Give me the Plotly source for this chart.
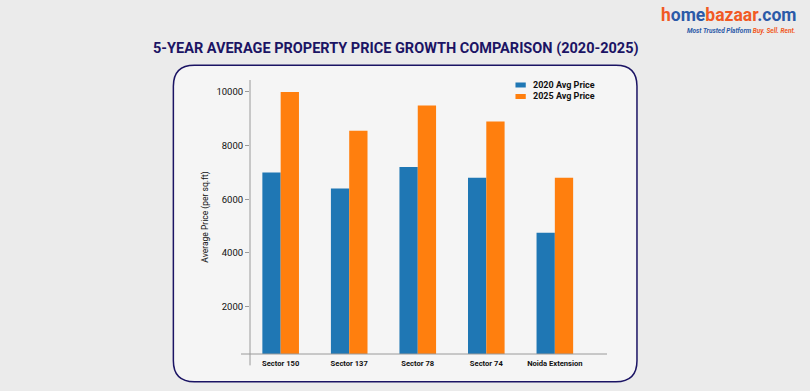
import plotly.graph_objects as go

categories = ["Sector 150", "Sector 137", "Sector 78", "Sector 74", "Noida Extension"]
price_2020 = [7000, 6400, 7200, 6800, 4750]
price_2025 = [10000, 8550, 9500, 8900, 6800]
series_names = ["2020 Avg Price", "2025 Avg Price"]
y_ticks = [2000, 4000, 6000, 8000, 10000]

W, H = 810, 391
L, R, T, B = 250, 202.7, 80, 36.7
PW, PH = W - L - R, H - T - B

def px(x):
    return (x - L) / PW

def py(y):
    return (H - B - y) / PH

BLUE = "#1f77b4"
ORANGE = "#ff7f0e"
NAVY = "#1b1464"
FONT = "Roboto, sans-serif"

fig = go.Figure()
fig.add_trace(go.Bar(x=categories, y=price_2020, name=series_names[0],
                     marker=dict(color=BLUE, line=dict(width=0)), showlegend=False))
fig.add_trace(go.Bar(x=categories, y=price_2025, name=series_names[1],
                     marker=dict(color=ORANGE, line=dict(width=0)), showlegend=False))

# frame with rounded corners (pixel -> paper)
x0, y0, x1, y1, r = 173.3, 65.3, 637.3, 382.0, 21
path = (f"M {px(x0+r)},{py(y0)} L {px(x1-r)},{py(y0)} Q {px(x1)},{py(y0)} {px(x1)},{py(y0+r)} "
        f"L {px(x1)},{py(y1-r)} Q {px(x1)},{py(y1)} {px(x1-r)},{py(y1)} "
        f"L {px(x0+r)},{py(y1)} Q {px(x0)},{py(y1)} {px(x0)},{py(y1-r)} "
        f"L {px(x0)},{py(y0+r)} Q {px(x0)},{py(y0)} {px(x0+r)},{py(y0)} Z")
shapes = [
    dict(type="path", xref="paper", yref="paper", path=path,
         line=dict(color=NAVY, width=1.5), fillcolor="#f5f5f5", layer="below"),
    # spines
    dict(type="line", xref="paper", yref="paper", x0=px(241), x1=px(607.3), y0=0, y1=0,
         line=dict(color="#9a9a9a", width=1), layer="above"),
    dict(type="line", xref="paper", yref="paper", x0=0, x1=0, y0=py(365.7), y1=1,
         line=dict(color="#9a9a9a", width=1), layer="above"),
    # legend swatches
    dict(type="rect", xref="paper", yref="paper", x0=px(515.7), x1=px(526), y0=py(87.5), y1=py(82.5),
         fillcolor=BLUE, line=dict(width=0)),
    dict(type="rect", xref="paper", yref="paper", x0=px(515.7), x1=px(526), y0=py(99), y1=py(94),
         fillcolor=ORANGE, line=dict(width=0)),
]

annotations = [
    dict(text="<b>5-YEAR AVERAGE PROPERTY PRICE GROWTH COMPARISON (2020-2025)</b>",
         xref="paper", yref="paper", x=px(396.5), y=py(48.5), xanchor="center", yanchor="middle",
         showarrow=False, font=dict(family=FONT, size=14.5, color=NAVY)),
    dict(text=series_names[0], xref="paper", yref="paper", x=px(531), y=py(85), xanchor="left",
         yanchor="middle", showarrow=False, font=dict(family=FONT, size=9, color="#111", weight=700)),
    dict(text=series_names[1], xref="paper", yref="paper", x=px(531), y=py(96.5), xanchor="left",
         yanchor="middle", showarrow=False, font=dict(family=FONT, size=9, color="#111", weight=700)),
    # logo
    dict(text="<b><span style='color:#f15a24'>h</span><span style='color:#2b5aa8'>ome</span>"
              "<span style='color:#f15a24'>bazaar</span><span style='color:#2b5aa8'>.com</span></b>",
         xref="paper", yref="paper", x=px(797), y=py(15), xanchor="right", yanchor="middle",
         borderpad=0, showarrow=False, font=dict(family=FONT, size=17.5)),
    dict(text="<b><i><span style='color:#2b5aa8'>Most Trusted Platform </span>"
              "<span style='color:#f15a24'>Buy. Sell. Rent.</span></i></b>",
         xref="paper", yref="paper", x=px(797), y=py(30.5), xanchor="right", yanchor="middle",
         borderpad=0, showarrow=False, font=dict(family=FONT, size=6.5)),
]

fig.update_layout(
    width=W, height=H,
    margin=dict(l=L, r=R, t=T, b=B, pad=0),
    paper_bgcolor="#ebebeb",
    plot_bgcolor="rgba(0,0,0,0)",
    barmode="group", bargap=0.466, bargroupgap=0,
    shapes=shapes, annotations=annotations,
    showlegend=False,
    xaxis=dict(range=[-0.4475, 4.761], showgrid=False, zeroline=False, showline=False,
               ticks="", tickfont=dict(family=FONT, size=7.6, color="#111", weight=700),
               ticklabelstandoff=3),
    yaxis=dict(range=[227, 10447], tickvals=y_ticks, ticktext=[str(v) for v in y_ticks],
               showgrid=False, zeroline=False, showline=False,
               ticks="outside", ticklen=4, tickcolor="#9a9a9a", tickwidth=1,
               tickfont=dict(family=FONT, size=9.5, color="#111"),
               title=dict(text="Average Price (per sq.ft)", standoff=6,
                          font=dict(family=FONT, size=8.5, color="#111"))),
)

fig.write_html("out.html", config={"displayModeBar": False},
               post_script="document.body.style.margin='0';document.body.style.overflow='hidden';")
